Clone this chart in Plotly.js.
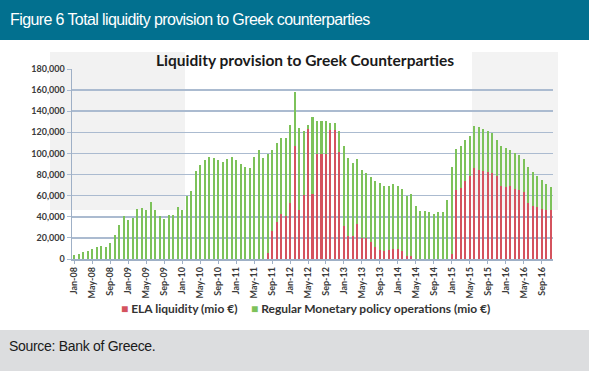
<!DOCTYPE html>
<html>
<head>
<meta charset="utf-8">
<script src="https://cdn.plot.ly/plotly-3.0.1.min.js"></script>
<style>
  html, body { margin:0; padding:0; width:589px; height:371px; overflow:hidden; background:#fff; }
  #chart { position:absolute; left:0; top:0; width:589px; height:371px; }
  #header { position:absolute; left:0; top:0; width:589px; height:40px; background:#02708F; z-index:5;
            color:#fff; font-family:"Liberation Sans", Arial, sans-serif; font-size:16px; letter-spacing:-0.6px;
            line-height:40px; padding-left:10px; box-sizing:border-box; }
  #footer { position:absolute; left:0; top:330px; width:589px; height:41px; background:#DCDDDF; z-index:5;
            color:#1a1a1a; font-family:"Liberation Sans", Arial, sans-serif; font-size:14px; letter-spacing:-0.3px;
            padding-left:9px; padding-top:8px; box-sizing:border-box; }
</style>
</head>
<body>
<div id="chart"></div>
<div id="header">Figure 6 Total liquidity provision to Greek counterparties</div>
<div id="footer">Source: Bank of Greece.</div>
<script>
// Months Jan-08 .. Nov-16
const monthNames = ["Jan","Feb","Mar","Apr","May","Jun","Jul","Aug","Sep","Oct","Nov","Dec"];
const years = ["08","09","10","11","12","13","14","15","16"];
const categories = [];
years.forEach(y => monthNames.forEach(m => categories.push(m + "-" + y)));
categories.splice(107); // data ends Nov-16

const tickLabels = ["Jan-08","May-08","Sep-08","Jan-09","May-09","Sep-09","Jan-10","May-10","Sep-10",
  "Jan-11","May-11","Sep-11","Jan-12","May-12","Sep-12","Jan-13","May-13","Sep-13",
  "Jan-14","May-14","Sep-14","Jan-15","May-15","Sep-15","Jan-16","May-16","Sep-16"];

// ELA liquidity (mio €)
const ela = [
  0,0,0,0,0,0,0,0,0,0,0,0,            // 2008
  0,0,0,0,0,0,0,0,0,0,0,0,            // 2009
  0,0,0,0,0,0,0,0,0,0,0,0,            // 2010
  0,0,0,0,0,0,0,5500,26200,35000,42600,40400, // 2011
  53000,106700,46700,60900,123400,61500,99700,99700,99700,122500,122500,101000, // 2012
  31500,21400,21400,33400,19900,19900,15800,11300,8800,7300,8800,9400, // 2013
  9400,7300,3100,3100,0,0,0,0,0,0,0,0, // 2014
  5000,65700,67500,73500,78300,86200,84600,83700,82000,81500,78300,68800, // 2015
  68200,68800,66300,65700,63100,53000,50500,48900,47700,46700,46100 // 2016
];

// Regular Monetary policy operations (mio €)
const regular = [
  4100,5000,6600,7200,9800,11700,12300,11000,14800,22700,31900,40700, // 2008
  36900,38800,47000,48300,46100,53700,46100,41000,38200,42000,41700,48900, // 2009
  46400,59300,64700,83300,89000,94100,96600,95700,94100,91600,94700,96600, // 2010
  94100,90000,87200,86500,96900,102900,95300,94000,77300,74900,72000,74200, // 2011
  74200,51200,77700,60600,3500,73300,31300,31300,30700,6300,6300,19900, // 2012
  75800,73900,69500,61300,64700,61500,61500,62200,63200,62100,60600,61900, // 2013
  60000,59000,56200,58500,49900,45100,45100,44500,42900,44200,44200,55500, // 2014
  82100,38500,39200,38900,37900,40100,40100,39800,38900,37900,34700,37900, // 2015
  36900,34100,34100,33100,31600,33800,31500,29400,27400,24600,21700 // 2016
];

const elaColor = "#D4535E";
const regColor = "#7DC25A";
const tickFont = {family:"Lato, 'Open Sans', sans-serif", size:9, color:"#3a3a3a", weight:"bold"};

// pixel helpers for paper coordinates (plot area 72..553 x, 69..259 y)
const L = 72, R = 553, T = 69, B = 259;
const px = v => (v - L) / (R - L);
const py = v => (B - v) / (B - T);

const traces = [
  {type:"bar", name:"ELA liquidity (mio €)", x:categories, y:ela, marker:{color:elaColor}},
  {type:"bar", name:"Regular Monetary policy operations (mio €)", x:categories, y:regular, marker:{color:regColor}}
];

const layout = {
  width:589, height:371,
  margin:{l:L, r:589-R, t:T, b:371-B},
  barmode:"stack", bargap:0.55,
  showlegend:false,
  paper_bgcolor:"#ffffff", plot_bgcolor:"rgba(0,0,0,0)",
  xaxis:{type:"category", range:[-0.5, categories.length-0.5], tickvals:tickLabels, ticktext:tickLabels,
         tickangle:-90, tickfont:tickFont, showgrid:false, showline:true, linecolor:"#9FB0C6", linewidth:1.5,
         ticks:"outside", ticklen:3, tickcolor:"#9FB0C6", zeroline:false, fixedrange:true},
  yaxis:{range:[0,180000], dtick:20000, tick0:0, tickformat:",", tickfont:tickFont,
         showgrid:true, gridcolor:"#ABBBD0", gridwidth:1.5, showline:true, linecolor:"#9FB0C6", linewidth:1.5,
         ticks:"outside", ticklen:4, tickcolor:"#ABBBD0", zeroline:false, fixedrange:true},
  shapes:[
    {type:"rect", xref:"paper", yref:"paper", x0:px(50), x1:px(185), y0:py(210), y1:py(52),
     fillcolor:"#F2F2F2", line:{width:0}, layer:"below"},
    {type:"rect", xref:"paper", yref:"paper", x0:px(472), x1:px(558), y0:py(210), y1:py(52),
     fillcolor:"#F3F3F3", line:{width:0}, layer:"below"}
  ],
  annotations:[
    {text:"Liquidity provision to Greek Counterparties", xref:"paper", yref:"paper", x:px(305), y:py(60),
     xanchor:"center", yanchor:"middle", showarrow:false,
     font:{family:"Lato, 'Open Sans', sans-serif", size:15.5, color:"#1a1a1a", weight:"bold"}},
    {text:'<span style="color:'+elaColor+'">■</span> ELA liquidity (mio €)', xref:"paper", yref:"paper",
     x:px(119), y:py(308), xanchor:"left", yanchor:"middle", showarrow:false,
     font:{family:"Lato, 'Open Sans', sans-serif", size:12, color:"#333333", weight:"bold"}},
    {text:'<span style="color:'+regColor+'">■</span> Regular Monetary policy operations (mio €)', xref:"paper", yref:"paper",
     x:px(249), y:py(308), xanchor:"left", yanchor:"middle", showarrow:false,
     font:{family:"Lato, 'Open Sans', sans-serif", size:12, color:"#333333", weight:"bold"}}
  ]
};

Plotly.newPlot("chart", traces, layout, {displayModeBar:false, staticPlot:true});
</script>
</body>
</html>
